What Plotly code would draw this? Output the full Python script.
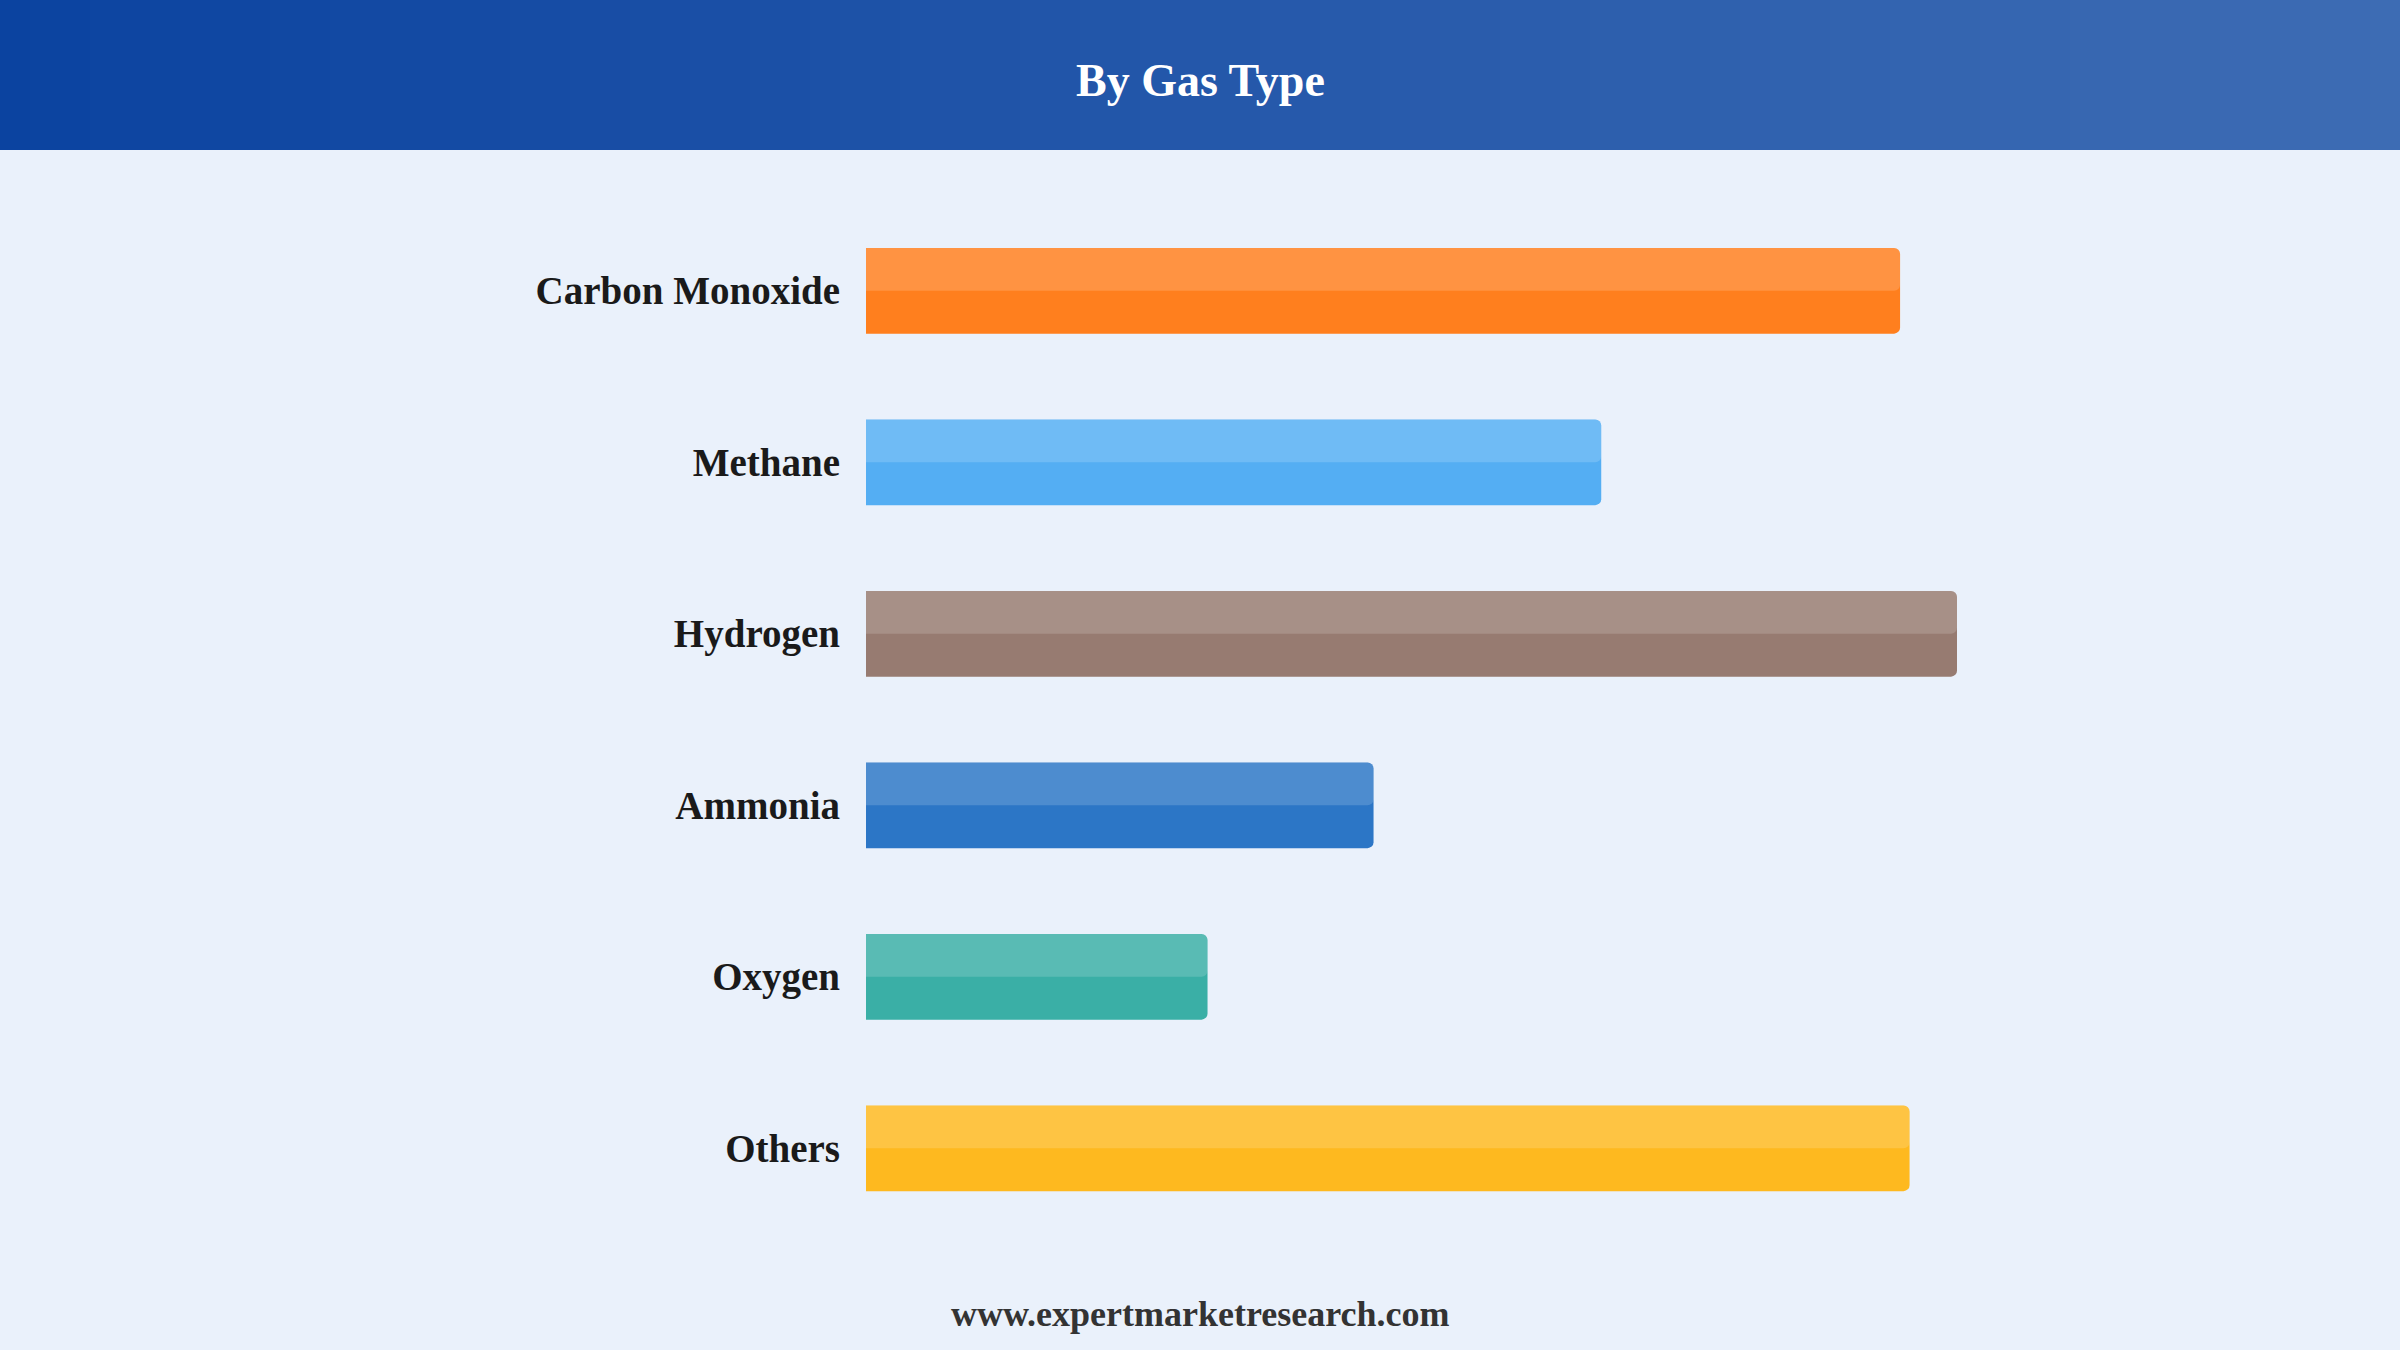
import plotly.graph_objects as go

# Data (share by gas type, %)
gas_types = ["Carbon Monoxide", "Methane", "Hydrogen", "Ammonia", "Oxygen", "Others"]
shares = [21.8, 15.5, 23.0, 10.7, 7.2, 22.0]
bar_colors = ["#FF7F1E", "#54AEF3", "#977B71", "#2C76C6", "#3AAFA6", "#FEB91F"]

title_text = "By Gas Type"
footer_text = "www.expertmarketresearch.com"

# Page geometry (pixels)
W, H = 2400, 1350
ML, MR, MT, MB = 866, 443, 205, 116
PW = W - ML - MR
PH = H - MT - MB


def px_x(px):
    return (px - ML) / PW


def px_y(py):
    # py measured from the top of the page
    return (H - MB - py) / PH


fig = go.Figure()

# Base bars
fig.add_trace(
    go.Bar(
        x=shares,
        y=gas_types,
        orientation="h",
        width=0.5,
        marker=dict(color=bar_colors, line=dict(width=0), cornerradius=6),
        hoverinfo="x+y",
        showlegend=False,
    )
)

# Lighter top half of each bar
fig.add_trace(
    go.Bar(
        x=shares,
        y=gas_types,
        orientation="h",
        width=0.25,
        offset=-0.25,
        marker=dict(color="rgba(255,255,255,0.16)", line=dict(width=0), cornerradius=6),
        hoverinfo="skip",
        showlegend=False,
    )
)

# Header band with a left-to-right gradient
left_rgb = (11, 67, 160)
right_rgb = (61, 108, 180)
n_strips = 80
shapes = []
for i in range(n_strips):
    t = i / (n_strips - 1)
    c = tuple(round(a + (b - a) * t) for a, b in zip(left_rgb, right_rgb))
    x0 = W * i / n_strips
    x1 = W * (i + 1) / n_strips + 1
    shapes.append(dict(
        type="rect", xref="paper", yref="paper",
        x0=px_x(x0), x1=px_x(x1), y0=px_y(150), y1=px_y(0),
        fillcolor="rgb(%d,%d,%d)" % c, line=dict(width=0), layer="below",
    ))

fig.update_layout(
    width=W,
    height=H,
    margin=dict(l=ML, r=MR, t=MT, b=MB),
    paper_bgcolor="#EAF1FB",
    plot_bgcolor="#EAF1FB",
    barmode="overlay",
    shapes=shapes,
    font=dict(family="Times New Roman, Liberation Serif, serif"),
    xaxis=dict(range=[0, max(shares)], visible=False, fixedrange=True),
    yaxis=dict(
        autorange="reversed",
        showgrid=False,
        zeroline=False,
        showline=False,
        ticks="",
        ticklabelstandoff=25,
        tickfont=dict(size=39, color="#1A1A1A", family="Times New Roman, Liberation Serif, serif",
                      weight="bold"),
        fixedrange=True,
    ),
    annotations=[
        dict(
            text="<b>%s</b>" % title_text,
            xref="paper", yref="paper",
            x=px_x(W / 2), y=px_y(81),
            xanchor="center", yanchor="middle",
            showarrow=False,
            font=dict(size=46, color="white"),
        ),
        dict(
            text="<b>%s</b>" % footer_text,
            xref="paper", yref="paper",
            x=px_x(W / 2), y=px_y(1314),
            xanchor="center", yanchor="middle",
            showarrow=False,
            font=dict(size=36, color="#333333"),
        ),
    ],
)

fig.write_html("out.html", config={"displayModeBar": False})

# Drop the default page margin so the figure fills the window edge to edge
with open("out.html", "r", encoding="utf-8") as f:
    html = f.read()
html = html.replace("<head>", "<head><style>html,body{margin:0;padding:0;overflow:hidden;}</style>", 1)
with open("out.html", "w", encoding="utf-8") as f:
    f.write(html)
